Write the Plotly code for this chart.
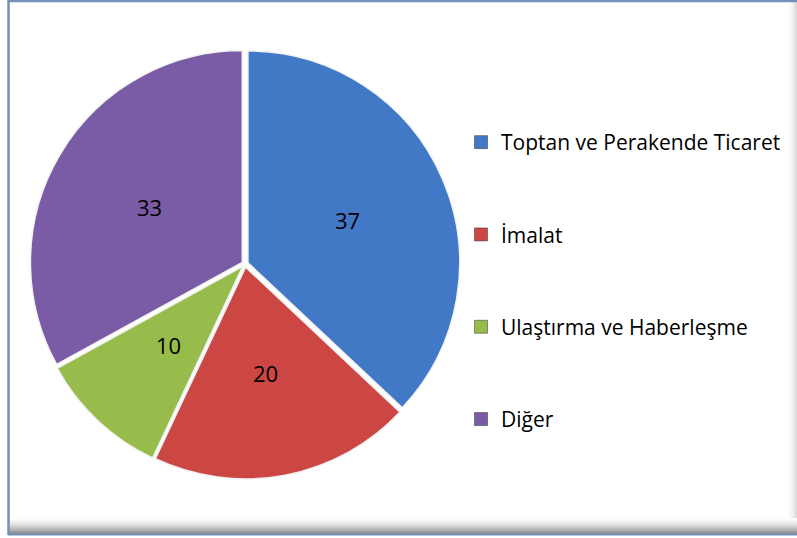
import math
import plotly.graph_objects as go

categories = ["Toptan ve Perakende Ticaret", "İmalat", "Ulaştırma ve Haberleşme", "Diğer"]
values = [37, 20, 10, 33]
colors = ["#4279C6", "#CC4744", "#97BC4C", "#7A5BA5"]

W, H = 797, 538
FONT = "Open Sans"

def px(x):
    return x / W

def py(y):
    return 1 - y / H

fig = go.Figure()

R = 215
CX, CY = 245, 264
PULL = 0.015
fig.add_trace(go.Pie(
    labels=categories,
    values=values,
    sort=False,
    direction="clockwise",
    rotation=0,
    pull=[PULL] * len(values),
    marker=dict(colors=colors, line=dict(color="#F2F2F2", width=1.5)),
    textinfo="none",
    domain=dict(x=[px(CX - R), px(CX + R)], y=[py(CY + R), py(CY - R)]),
    showlegend=False,
    hoverinfo="label+value",
))

# data labels placed along each slice bisector (Excel-style, about half radius)
total = sum(values)
r_in = R / (1 + PULL)
annotations = []
cum = 0
for v in values:
    mid = (cum + v / 2) / total * 2 * math.pi
    cum += v
    d = 0.51 * r_in + PULL * r_in
    lx = CX + d * math.sin(mid)
    ly = CY - d * math.cos(mid)
    annotations.append(dict(x=px(lx), y=py(ly), xref="paper", yref="paper",
                            text=str(v), showarrow=False,
                            font=dict(family=FONT, size=22, color="#000000"),
                            xanchor="center", yanchor="middle"))

# legend entries
for i, (c, col) in enumerate(zip(categories, colors)):
    fig.add_trace(go.Scatter(
        x=[None], y=[None], mode="markers", name=c,
        marker=dict(symbol="square", size=13, color=col,
                    line=dict(color="#333333", width=0.5)),
        legendgroup=f"g{i}", showlegend=True,
    ))

shapes = []
# bottom shadow gradient
n = 16
for k in range(n):
    y0 = 518 + k
    a = (k + 1) / n
    shapes.append(dict(type="rect", xref="paper", yref="paper",
                       x0=px(9), x1=px(797), y0=py(y0 + 1), y1=py(y0),
                       fillcolor=f"rgba(110,110,110,{0.8 * a ** 1.6:.3f})",
                       line=dict(width=0), layer="above"))
# right shadow gradient
m = 9
for k in range(m):
    x0 = 788 + k
    a = (k + 1) / m
    shapes.append(dict(type="rect", xref="paper", yref="paper",
                       x0=px(x0), x1=px(x0 + 1), y0=py(518), y1=py(2),
                       fillcolor=f"rgba(150,150,150,{0.35 * a ** 1.5:.3f})",
                       line=dict(width=0), layer="above"))
border = "#7390B8"
shapes += [
    dict(type="line", xref="paper", yref="paper", x0=px(8.5), x1=px(8.5), y0=py(535), y1=py(0),
         line=dict(color=border, width=2.5)),
    dict(type="line", xref="paper", yref="paper", x0=px(8), x1=px(797), y0=py(1), y1=py(1),
         line=dict(color=border, width=2.5)),
    dict(type="line", xref="paper", yref="paper", x0=px(8), x1=px(797), y0=py(534.5), y1=py(534.5),
         line=dict(color=border, width=2)),
]

fig.update_layout(
    width=W, height=H,
    margin=dict(l=0, r=0, t=0, b=0),
    paper_bgcolor="#FFFFFF",
    plot_bgcolor="rgba(0,0,0,0)",
    xaxis=dict(visible=False, domain=[0.99, 1.0]),
    yaxis=dict(visible=False, domain=[0.99, 1.0]),
    shapes=shapes,
    annotations=annotations,
    showlegend=True,
    legend=dict(x=px(461), y=py(122), xanchor="left", yanchor="top",
                font=dict(family=FONT, size=21, color="#000000"),
                tracegroupgap=62, itemwidth=30, bgcolor="rgba(0,0,0,0)"),
    font=dict(family=FONT),
)

fig.write_html("out.html", config={"displayModeBar": False},
               post_script="document.body.style.margin='0px';")
